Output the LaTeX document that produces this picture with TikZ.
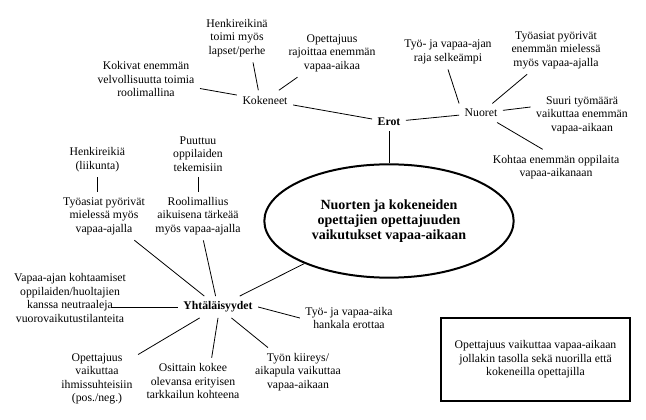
\documentclass[tikz,border=0pt]{standalone}
\usepackage{fontspec}
\setmainfont{Liberation Serif}
\usetikzlibrary{shapes.geometric,positioning}

\begin{document}
\begin{tikzpicture}[
    x=0.75pt, y=-0.75pt,
    leaf/.style={align=center, inner sep=4pt, font=\fontsize{8.8}{10.1}\selectfont},
    hub/.style={inner sep=4pt, font=\fontsize{8.8}{10.1}\selectfont},
    boldhub/.style={hub, font=\fontsize{8.8}{10.1}\selectfont\bfseries},
    theme/.style={ellipse, draw, line width=1.5pt, minimum width=187pt, minimum height=85pt, align=center, font=\fontsize{10.5}{11}\selectfont\bfseries},
    note/.style={rectangle, draw, line width=1.1pt, minimum width=141.75pt, minimum height=62.25pt, align=center, font=\fontsize{8.8}{10.1}\selectfont},
    link/.style={line width=0.6pt}
]
    \useasboundingbox (0,0) rectangle (646,420);

    \node[theme] (ell) at (389,221) {Nuorten ja kokeneiden\\opettajien opettajuuden\\vaikutukset vapaa-aikaan};
    \node[note] (summary) at (535.5,359.5) {Opettajuus vaikuttaa vapaa-aikaan\\jollakin tasolla sekä nuorilla että\\kokeneilla opettajilla};

    % Erot
    \node[boldhub] (erot) at (389,122) {Erot};
    \node[hub] (kok) at (265,100) {Kokeneet};
    \node[leaf] (kokivat) at (146,79) {Kokivat enemmän\\velvollisuutta toimia\\roolimallina};
    \node[leaf] (henk) at (237,38) {Henkireikinä\\toimi myös\\lapset/perhe};
    \node[leaf] (rajoittaa) at (332,53) {Opettajuus\\rajoittaa enemmän\\vapaa-aikaa};
    \node[hub] (nuoret) at (481,113) {Nuoret};
    \node[leaf] (raja) at (448,52) {Työ- ja vapaa-ajan\\raja selkeämpi};
    \node[leaf] (mielessa) at (556,50) {Työasiat pyörivät\\enemmän mielessä\\myös vapaa-ajalla};
    \node[leaf] (suuri) at (582,115) {Suuri työmäärä\\vaikuttaa enemmän\\vapaa-aikaan};
    \node[leaf] (kohtaa) at (556,167) {Kohtaa enemmän oppilaita\\vapaa-aikanaan};

    \draw[link] (erot) -- (ell);
    \draw[link] (kok) -- (erot);
    \draw[link] (kok) -- (kokivat);
    \draw[link] ([xshift=-5pt]kok.north) -- ([xshift=12pt]henk.south);
    \draw[link] (kok) -- (rajoittaa);
    \draw[link] (erot) -- (nuoret);
    \draw[link] (nuoret.north west) -- (raja.south);
    \draw[link] (nuoret) -- (mielessa);
    \draw[link] (nuoret) -- ([yshift=6pt]suuri.west);
    \draw[link] (nuoret) -- ([xshift=-10pt]kohtaa.north);

    % Yhtäläisyydet
    \node[boldhub] (yht) at (218,307) {Yhtäläisyydet};
    \node[leaf] (tyoasiat) at (104,216) {Työasiat pyörivät\\mielessä myös\\vapaa-ajalla};
    \node[leaf, above=11pt of tyoasiat, xshift=-5pt] (henkl) {Henkireikiä\\(liikunta)};
    \node[leaf] (roolim) at (198,216) {Roolimallius\\aikuisena tärkeää\\myös vapaa-ajalla};
    \node[leaf, above=11pt of roolim] (puuttuu) {Puuttuu\\oppilaiden\\tekemisiin};
    \node[leaf] (kohtaamiset) at (70,298) {Vapaa-ajan kohtaamiset\\oppilaiden/huoltajien\\kanssa neutraaleja\\vuorovaikutustilanteita};
    \node[leaf] (ihmis) at (97,379) {Opettajuus\\vaikuttaa\\ihmissuhteisiin\\(pos./neg.)};
    \node[leaf] (osittain) at (193,381) {Osittain kokee\\olevansa erityisen\\tarkkailun kohteena};
    \node[leaf] (kiire) at (298,372) {Työn kiireys/\\aikapula vaikuttaa\\vapaa-aikaan};
    \node[leaf] (erottaa) at (349,318) {Työ- ja vapaa-aika\\hankala erottaa};

    \draw[link] (henkl.south) -- (henkl.south |- tyoasiat.north);
    \draw[link] (puuttuu) -- (roolim);
    \draw[link] (yht) -- (tyoasiat);
    \draw[link] (yht) -- (roolim);
    \draw[link] (yht) -- (ell);
    \draw[link] (yht.west) -- ([xshift=-15pt]kohtaamiset.east |- yht.west);
    \draw[link] (yht) -- (ihmis);
    \draw[link] (yht.south) -- ([xshift=14pt]osittain.north);
    \draw[link] (yht) -- (kiire);
    \draw[link] (yht.east) -- (erottaa.west);
\end{tikzpicture}
\end{document}
